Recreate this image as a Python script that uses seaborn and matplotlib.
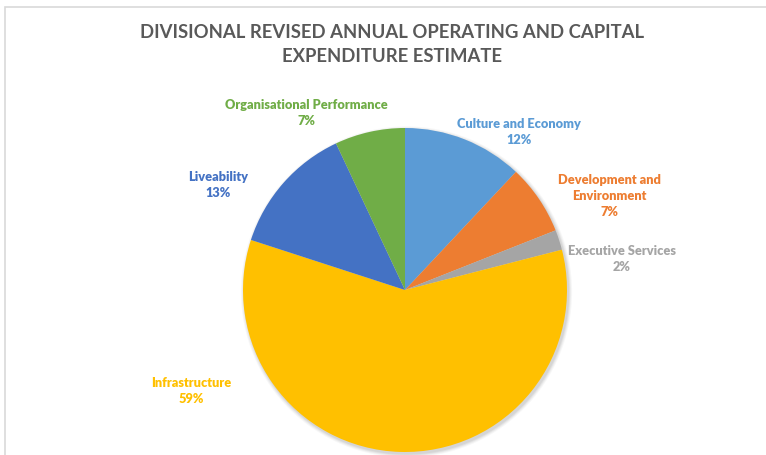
import matplotlib
matplotlib.use("Agg")
import matplotlib.pyplot as plt
from matplotlib.patches import Circle, Rectangle
import seaborn as sns

# Divisional share of the revised annual operating and capital expenditure estimate
divisions = ["Culture and Economy", "Development and\nEnvironment", "Executive Services",
             "Infrastructure", "Liveability", "Organisational Performance"]
shares = [12, 7, 2, 59, 13, 7]
colors = ["#5B9BD5", "#ED7D31", "#A5A5A5", "#FFC000", "#4472C4", "#70AD47"]

title = "DIVISIONAL REVISED ANNUAL OPERATING AND CAPITAL\nEXPENDITURE ESTIMATE"

W, H = 766, 456
sns.set_theme(style="white")
plt.rcParams["font.family"] = ["Lato", "DejaVu Sans"]

fig = plt.figure(figsize=(W / 100, H / 100), dpi=100)
ax = fig.add_axes([0, 0, 1, 1])

cx, cy, r = 405, H - 291, 162

# soft drop shadow under the pie
for i, a in enumerate([0.05, 0.05, 0.04, 0.03]):
    ax.add_patch(Circle((cx + 1.5, cy - 2.0), r + 0.6 + i * 1.0, color="#000000",
                        alpha=a, lw=0, zorder=0))

ax.pie(shares, colors=colors, startangle=90, counterclock=False,
       center=(cx, cy), radius=r, frame=True,
       wedgeprops=dict(linewidth=0, antialiased=True))

# outside label anchor points (pixel coordinates, top-left origin)
label_xy = [(519, 118), (609, 174), (622, 245), (191, 377), (218, 171), (306, 99)]
for name, val, col, (lx, ly) in zip(divisions, shares, colors, label_xy):
    txt = f"{name}\n{val}%"
    ax.text(lx, H - ly, txt, ha="center", va="top", color=col, fontsize=9.2,
            fontweight="heavy", linespacing=1.38, zorder=5)

ax.text(392, H - 24, title, ha="center", va="top", color="#595959",
        fontsize=13.3, fontweight="bold", linespacing=1.5)

# chart area border
ax.add_patch(Rectangle((5, -10), W + 20, H - 8 + 10, fill=False,
                       edgecolor="#D9D9D9", lw=1.2, zorder=6))

ax.set_xlim(0, W)
ax.set_ylim(0, H)
ax.set_aspect("auto")
ax.axis("off")
fig.savefig("out.png", dpi=100, facecolor="white")
